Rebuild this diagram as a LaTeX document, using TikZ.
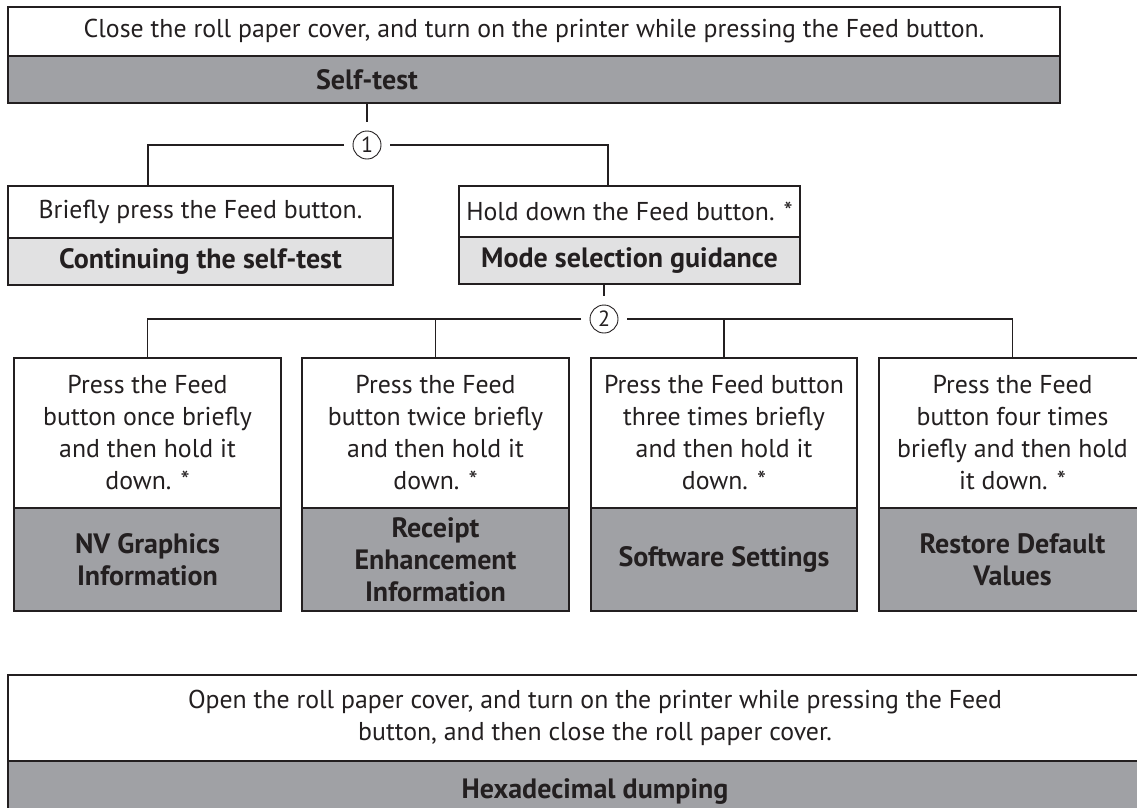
\documentclass[tikz,border=0pt]{standalone}
\usepackage{fontspec}
\setmainfont{PT Sans}
\definecolor{lc}{HTML}{231F20}
\definecolor{tc}{HTML}{231F20}
\definecolor{dg}{HTML}{A0A1A5}
\definecolor{lg}{HTML}{E1E1E2}
\begin{document}
\begin{tikzpicture}[x=1pt,y=-1pt,
  every node/.style={text=tc},
  wbox/.style={draw=lc, line width=1.4pt, fill=white, inner sep=0pt, align=center,
               font=\fontsize{25.8}{32}\selectfont},
  gbox/.style={wbox, fill=dg, font=\fontsize{28}{32}\selectfont\bfseries},
  lbox/.style={wbox, fill=lg, font=\fontsize{28}{32}\selectfont\bfseries},
  lbl/.style={inner sep=0pt, font=\fontsize{28}{32}\selectfont\bfseries},
  num/.style={draw=lc, line width=0.9pt, circle, minimum size=28pt, inner sep=0pt,
              outer sep=9pt, font=\fontsize{22}{22}\selectfont},
  conn/.style={draw=lc, line width=1.4pt}]
\useasboundingbox (0,0) rectangle (1137,807);

% top
\node[wbox, minimum width=1052pt, minimum height=49pt] (t1) at (534,31.5)
  {Close the roll paper cover, and turn on the printer while pressing the Feed button.};
\node[gbox, minimum width=1052pt, minimum height=47pt] (t2) at (534,79.5) {};
\node[lbl] (t2l) at (367,80) {Self-test};

% circle 1
\node[num] (c1) at (367,145) {1};
\coordinate (k1) at (148,145);
\coordinate (k2) at (608,145);

% middle left
\node[wbox, minimum width=385pt, minimum height=52pt] (m1a) at (200.5,212) {Briefly press the Feed button.};
\node[lbox, minimum width=385pt, minimum height=47pt] (m1b) at (200.5,261.5) {Continuing the self-test};
% middle right
\node[wbox, minimum width=341pt, minimum height=51pt] (m2a) at (629.5,211.5) {Hold down the Feed button. *};
\node[lbox, minimum width=341pt, minimum height=47pt] (m2b) at (629.5,260.5) {Mode selection guidance};

% circle 2
\node[num] (c2) at (604,319) {2};

% bottom row
\node[wbox, minimum width=267pt, minimum height=150pt] (b1a) at (147.5,433)
  {Press the Feed\\button once briefly\\and then hold it\\down. *};
\node[gbox, minimum width=267pt, minimum height=103pt] (b1b) at (147.5,559.5)
  {NV Graphics\\Information};
\node[wbox, minimum width=267pt, minimum height=150pt] (b2a) at (435.5,433)
  {Press the Feed\\button twice briefly\\and then hold it\\down. *};
\node[gbox, minimum width=267pt, minimum height=103pt] (b2b) at (435.5,559.5)
  {Receipt\\Enhancement\\Information};
\node[wbox, minimum width=266pt, minimum height=150pt] (b3a) at (724,433)
  {Press the Feed button\\three times briefly\\and then hold it\\down. *};
\node[gbox, minimum width=266pt, minimum height=103pt] (b3b) at (724,559.5)
  {Software Settings};
\node[wbox, minimum width=267pt, minimum height=150pt] (b4a) at (1012.5,433)
  {Press the Feed\\button four times\\briefly and then hold\\it down. *};
\node[gbox, minimum width=267pt, minimum height=103pt] (b4b) at (1012.5,559.5)
  {Restore Default\\Values};

% bottom box
\node[wbox, minimum width=1174pt, minimum height=86pt] (h1) at (595,718)
  {Open the roll paper cover, and turn on the printer while pressing the Feed\\button, and then close the roll paper cover.};
\node[gbox, minimum width=1174pt, minimum height=60pt] (h2) at (595,791)
  {Hexadecimal dumping};

% connectors
\draw[conn] (t2.south -| c1) -- (c1);
\draw[conn] (c1.west) -- (k1) -- (k1 |- m1a.north);
\draw[conn] (c1.east) -- (k2) -- (k2 |- m2a.north);
\draw[conn] (m2b.south -| c2) -- (c2);
\draw[conn] (c2.west) -| (b1a.north);
\draw[conn] (c2.east) -| (b4a.north);
\draw[conn] (b2a.north) -- (b2a.north |- c2);
\draw[conn] (b3a.north) -- (b3a.north |- c2);
\end{tikzpicture}
\end{document}
